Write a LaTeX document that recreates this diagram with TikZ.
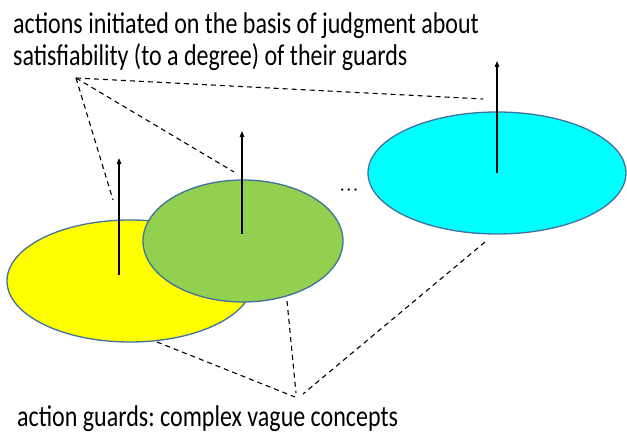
\documentclass[tikz,border=0pt]{standalone}
\usepackage{fontspec}
\setmainfont{Carlito}
\usetikzlibrary{shapes.geometric,arrows.meta}
\definecolor{edgeblue}{HTML}{41719C}
\definecolor{yellowfill}{HTML}{FFFF00}
\definecolor{greenfill}{HTML}{92D050}
\definecolor{cyanfill}{HTML}{00FFFF}
\newcommand{\tallt}[1]{\scalebox{1}[1.25]{#1}}
\tikzset{
  guard/.style={ellipse, draw=edgeblue, line width=1.3pt, inner sep=0pt},
  act/.style={line width=1.3pt, -{Triangle[width=4.5pt,length=6pt]}},
  link/.style={line width=1.1pt, dash pattern=on 5pt off 4pt},
  label/.style={anchor=base west, inner sep=0pt, font=\fontsize{24}{28}\selectfont\frenchspacing},
}
\begin{document}
\begin{tikzpicture}[x=1pt,y=-1pt]
\useasboundingbox (0,0) rectangle (627,435);
% ellipses
\node[guard, fill=yellowfill, minimum width=246pt, minimum height=122pt] (Y) at (130,281) {};
\coordinate (ya) at (119,275);
\coordinate (yt) at (119,158);
\draw[act] (ya) -- (yt);
\node[guard, fill=greenfill, minimum width=200pt, minimum height=122pt] (G) at (243,241) {};
\coordinate (ga) at (242,234);
\coordinate (gt) at (242,131);
\draw[act] (ga) -- (gt);
\node[guard, fill=cyanfill, minimum width=258pt, minimum height=122pt] (C) at (497,173) {};
\coordinate (ca) at (497,173);
\coordinate (ct) at (497,61);
\draw[act] (ca) -- (ct);
% dots
\node[inner sep=0pt, font=\fontsize{16}{18}\selectfont] (dots) at (349,192) {\textperiodcentered\,\textperiodcentered\,\textperiodcentered};
% texts
\node[label] (top1) at (13,34) {\tallt{actions initiated on the basis of judgment about}};
\node[label] (top2) at (13,66) {\tallt{satisfiability (to a degree) of their guards}};
\node[label] (bot) at (17,427) {\tallt{action guards: complex vague concepts}};
% dashed links (top)
\coordinate (tp) at (76,78);
\coordinate (t1) at (483,99);
\coordinate (t2) at (113,200);
\coordinate (t3) at (234,172);
\draw[link] (tp) -- (t1);
\draw[link] (tp) -- (t2);
\draw[link] (tp) -- (t3);
% dashed links (bottom)
\coordinate (b1) at (157,342);
\coordinate (b2) at (287,301);
\coordinate (b3) at (485,242);
\coordinate (bl) at (295,397);
\coordinate (bm) at (296,393);
\coordinate (br) at (303,394);
\draw[link] (b1) -- (bl);
\draw[link] (b2) -- (bm);
\draw[link] (b3) -- (br);
\end{tikzpicture}
\end{document}
